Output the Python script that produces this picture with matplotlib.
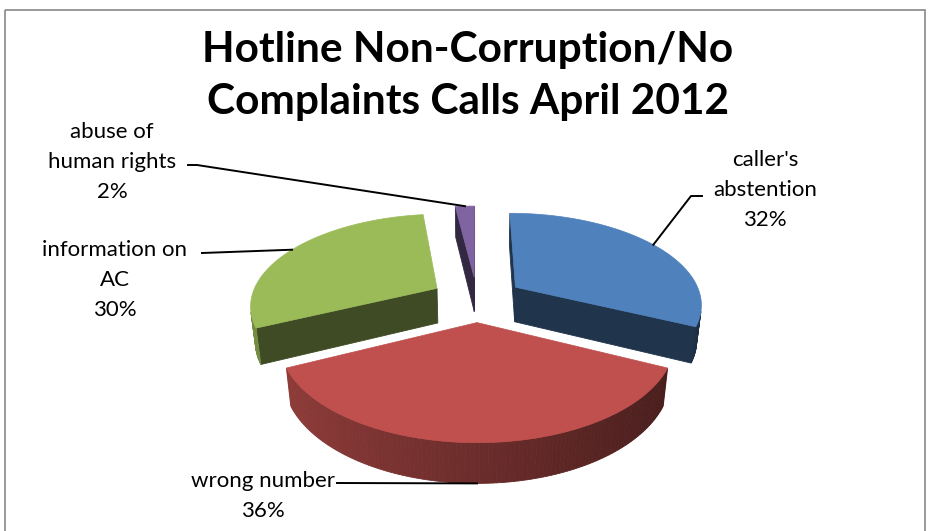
import numpy as np
import matplotlib.pyplot as plt
from matplotlib.patches import Polygon, Rectangle

# data
labels = ["caller's\nabstention", "wrong number", "information on\nAC", "abuse of\nhuman rights"]
values = [32, 36, 30, 2]
top_colors = ['#4F81BD', '#C0504D', '#9BBB59', '#8064A2']
title = "Hotline Non-Corruption/No\nComplaints Calls April 2012"

# where the label text sits and where its leader line bends (pixels)
label_pos = [(765, 190), (263, 496), (115, 280), (112, 162)]
elbows = [[(702, 196), (691, 196)], [(337, 483)], [(202, 253)], [(188, 165), (197, 165)]]

# 3d view
cx, cy = 477, 299
F, D = 950.0, 5.1
elev = np.radians(29)
s, c = np.sin(elev), np.cos(elev)
h = 0.22
explode = 0.25


def proj(X, Y, Z):
    yv = Y * s + Z * c
    d = D + Y * c - Z * s
    return cx + F * X / d, cy - F * yv / d


def shoelace(pts):
    x, y = np.array(pts).T
    return np.sum(x * np.roll(y, -1) - np.roll(x, -1) * y)


def shade(col, k):
    r, g, b = plt.matplotlib.colors.to_rgb(col)
    return (r * k, g * k, b * k)


fig = plt.figure(figsize=(9.33, 5.31), dpi=100)
ax = fig.add_axes([0, 0, 1, 1])
ax.set_xlim(0, 933)
ax.set_ylim(531, 0)
ax.axis('off')

ax.add_patch(Rectangle((5, 10), 920, 600, fill=False, ec='#888888', lw=1.2))

total = float(sum(values))
slices = []
start = 90.0
for i, v in enumerate(values):
    span = 360.0 * v / total
    a0, a1 = start, start - span
    mid = np.radians((a0 + a1) / 2)
    ox, oy = explode * np.cos(mid), explode * np.sin(mid)
    slices.append((i, a0, a1, mid, ox, oy))
    start = a1

# back slices first
for i, a0, a1, mid, ox, oy in sorted(slices, key=lambda t: -t[5]):
    col = top_colors[i]
    th = np.radians(np.linspace(a0, a1, 120))
    tx, ty = ox + np.cos(th), oy + np.sin(th)
    top = [proj(x, y, 0) for x, y in zip(tx, ty)]
    bot = [proj(x, y, -h) for x, y in zip(tx, ty)]
    apex_t = proj(ox, oy, 0)
    apex_b = proj(ox, oy, -h)

    faces = []
    # cut faces
    faces.append(([apex_t, top[0], bot[0], apex_b], shade(col, 0.4)))
    faces.append(([top[-1], apex_t, apex_b, bot[-1]], shade(col, 0.4)))
    # outer wall
    for j in range(len(th) - 1):
        k = 0.56 + 0.2 * np.cos(th[j] + np.pi)
        faces.append(([top[j], top[j + 1], bot[j + 1], bot[j]], shade(col, k)))
    for pts, fc in faces:
        if shoelace(pts) < 0:
            ax.add_patch(Polygon(pts, closed=True, fc=fc, ec=fc, lw=0.6))
    ax.add_patch(Polygon([apex_t] + top, closed=True, fc=col, ec=col, lw=0.5))

# labels with leader lines
for i, a0, a1, mid, ox, oy in slices:
    X, Y = ox + np.cos(mid), oy + np.sin(mid)
    z = -h if np.sin(mid) < -0.9 else 0
    end = proj(X, Y, z)
    pts = elbows[i] + [end]
    xs, ys = zip(*pts)
    ax.plot(xs, ys, color='black', lw=1.4)
    ax.text(label_pos[i][0], label_pos[i][1],
            labels[i] + "\n%d%%" % round(values[i] / total * 100),
            ha='center', va='center', fontsize=16, family='Lato',
            linespacing=1.65)

ax.text(468, 76, title, ha='center', va='center', fontsize=30.5,
        family='Lato', fontweight='bold', linespacing=1.42)

fig.savefig('out.png', dpi=100)
